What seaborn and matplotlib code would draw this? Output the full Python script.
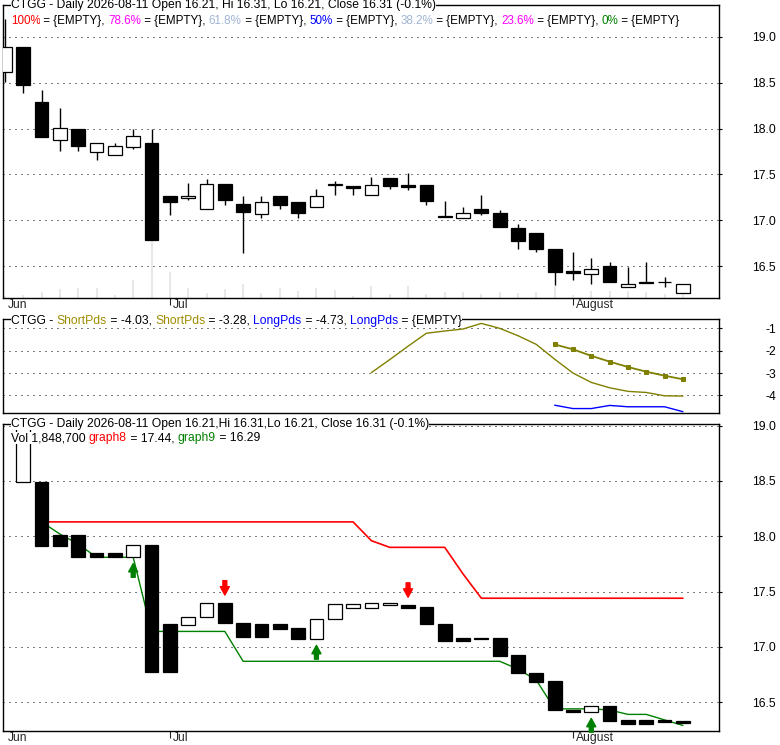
import numpy as np
import pandas as pd
import seaborn as sns
import matplotlib.pyplot as plt
from matplotlib.transforms import ScaledTranslation

sns.set_style("white")
plt.rcParams["font.family"] = ["Liberation Sans", "DejaVu Sans"]
plt.rcParams["axes.unicode_minus"] = False
FS = 8.7

# trading days shown (Juneteenth and Jul 3 closed)
dates = pd.bdate_range("2026-06-17", "2026-08-11", freq="C",
                       holidays=["2026-06-19", "2026-07-03"])

# daily OHLC
opens = [18.62, 18.89, 18.29, 17.87, 18.00, 17.74, 17.71, 17.80, 17.84, 17.26,
         17.24, 17.12, 17.40, 17.18, 17.07, 17.26, 17.20, 17.15, 17.39, 17.37,
         17.28, 17.46, 17.39, 17.39, 17.05, 17.02, 17.12, 17.08, 16.92, 16.86,
         16.69, 16.45, 16.41, 16.50, 16.27, 16.33, 16.33, 16.21]
highs = [19.20, 18.89, 18.42, 18.22, 18.00, 17.84, 17.84, 17.99, 17.99, 17.26,
         17.41, 17.45, 17.40, 17.26, 17.26, 17.26, 17.20, 17.34, 17.43, 17.37,
         17.47, 17.46, 17.52, 17.39, 17.21, 17.14, 17.28, 17.11, 16.96, 16.86,
         16.69, 16.65, 16.59, 16.54, 16.49, 16.55, 16.38, 16.31]
lows = [18.51, 18.39, 17.91, 17.76, 17.75, 17.66, 17.71, 17.78, 16.79, 17.06,
        17.22, 17.12, 17.17, 16.64, 17.02, 17.12, 17.03, 17.15, 17.28, 17.28,
        17.28, 17.34, 17.33, 17.17, 17.04, 17.02, 17.06, 16.93, 16.69, 16.65,
        16.29, 16.35, 16.30, 16.33, 16.27, 16.32, 16.27, 16.21]
closes = [18.89, 18.48, 17.91, 18.01, 17.81, 17.84, 17.81, 17.92, 16.79, 17.20,
          17.27, 17.40, 17.22, 17.09, 17.20, 17.17, 17.08, 17.26, 17.395, 17.35,
          17.39, 17.37, 17.36, 17.21, 17.04, 17.08, 17.08, 16.93, 16.77, 16.69,
          16.44, 16.42, 16.47, 16.33, 16.31, 16.32, 16.33, 16.31]
volume_m = [0.7, 1.4, 2.7, 4.1, 4.5, 4.5, 1.4, 8.1, 31.0, 11.7,
            4.5, 2.3, 4.1, 6.3, 2.3, 4.5, 3.2, 4.5, 3.6, 0.9,
            5.4, 1.8, 5.4, 1.8, 2.7, 2.7, 1.8, 2.7, 2.3, 2.7,
            5.4, 1.4, 3.2, 3.2, 3.2, 2.7, 1.8, 1.85]

# oscillator panel
short_pds1 = [np.nan] * 20 + [-2.98, -2.40, -1.80, -1.22, -1.12, -1.03, -0.78, -1.00, -1.33,
                              -1.72, -2.38, -3.00, -3.42, -3.66, -3.82, -3.87, -4.02, -4.03]
short_pds2 = [np.nan] * 30 + [-1.72, -1.94, -2.23, -2.49, -2.73, -2.94, -3.12, -3.28]
long_pds1 = [np.nan] * 30 + [-4.44, -4.59, -4.59, -4.45, -4.51, -4.51, -4.51, -4.73]

# lower panel boxes and stop lines
box_open = [np.nan, 18.49, 18.49, 18.01, 18.01, 17.85, 17.85, 17.81, 17.92, 17.21,
            17.20, 17.27, 17.40, 17.22, 17.21, 17.21, 17.17, 17.07, 17.25, 17.35,
            17.35, 17.38, 17.38, 17.36, 17.21, 17.08, 17.08, 17.08, 16.93, 16.76,
            16.69, 16.43, 16.41, 16.47, 16.34, 16.34, 16.34, 16.33]
box_close = [np.nan, 19.10, 17.91, 17.91, 17.81, 17.81, 17.81, 17.92, 16.77, 16.77,
             17.27, 17.40, 17.22, 17.09, 17.09, 17.16, 17.07, 17.25, 17.39, 17.39,
             17.40, 17.40, 17.35, 17.21, 17.05, 17.05, 17.07, 16.92, 16.76, 16.68,
             16.43, 16.41, 16.47, 16.33, 16.30, 16.30, 16.32, 16.31]
graph8 = [np.nan, np.nan, 18.13, 18.13, 18.13, 18.13, 18.13, 18.13, 18.13, 18.13,
          18.13, 18.13, 18.13, 18.13, 18.13, 18.13, 18.13, 18.13, 18.13, 18.13,
          17.96, 17.90, 17.90, 17.90, 17.90, 17.66, 17.44, 17.44, 17.44, 17.44,
          17.44, 17.44, 17.44, 17.44, 17.44, 17.44, 17.44, 17.44]
graph9 = [np.nan, np.nan, 18.13, 18.02, 17.93, 17.81, 17.81, 17.81, 17.14, 17.14,
          17.14, 17.14, 17.14, 16.87, 16.87, 16.87, 16.87, 16.87, 16.87, 16.87,
          16.87, 16.87, 16.87, 16.87, 16.87, 16.87, 16.87, 16.87, 16.80, 16.70,
          16.44, 16.44, 16.44, 16.43, 16.39, 16.39, 16.34, 16.29]
buy_days = [7, 17, 32]
sell_days = [12, 22]

x = np.arange(len(dates))
df = pd.DataFrame({"x": x, "short1": short_pds1, "short2": short_pds2,
                   "long1": long_pds1, "g8": graph8, "g9": graph9})

OLIVE = "#808000"
fig = plt.figure(figsize=(7.8, 7.45), dpi=100)
L, W = 3.3 / 780, 715.7 / 780
ax1 = fig.add_axes([L, 0.600, W, 0.3933])
ax2 = fig.add_axes([L, 0.4456, W, 0.1262])
ax3 = fig.add_axes([L, 0.0188, W, 0.4121])


def style_axis(ax, ylim, yticks):
    ax.set_xlim(-0.09, 38.97)
    ax.set_ylim(*ylim)
    ax.set_yticks(yticks)
    ax.yaxis.tick_right()
    ax.tick_params(axis="y", right=True, left=False, length=2, pad=39,
                   labelsize=FS, colors="black")
    plt.setp(ax.get_yticklabels(), ha="right")
    ax.yaxis.grid(True, color="black", linestyle=(0, (1, 5)), linewidth=0.72)
    ax.set_axisbelow(True)
    for s in ax.spines.values():
        s.set_color("black")
        s.set_linewidth(1.0)
    ax.set_xlabel("")
    ax.set_ylabel("")


def month_axis(ax):
    firsts = [0] + [i for i in range(1, len(dates)) if dates[i].month != dates[i - 1].month]
    names = [dates[i].strftime("%b") if dates[i].month != 8 else "August" for i in firsts]
    ax.set_xticks(firsts, names)
    ax.tick_params(axis="x", bottom=True, length=5, pad=-4.0, labelsize=FS, direction="out")
    off = ScaledTranslation(3 / 100, 0, fig.dpi_scale_trans)
    for lab in ax.get_xticklabels():
        lab.set_ha("left")
        lab.set_transform(lab.get_transform() + off)
    ax.xaxis.get_major_ticks()[0].tick1line.set_visible(False)


def text_line(ax, y, pieces, size=FS):
    bb = dict(fc="white", ec="none", pad=0)
    t = ax.text(11 / 715.7 - 0.005, y, pieces[0][0], color=pieces[0][1], fontsize=size,
                transform=ax.transAxes, va="center", ha="left", bbox=bb, zorder=20)
    for s, c in pieces[1:]:
        t = ax.annotate(s, xy=(1, 0), xycoords=t, va="bottom", ha="left",
                        color=c, fontsize=size, bbox=bb, zorder=20)


# ---- top panel: candles + volume
axv = ax1.twinx()
axv.vlines(x, 0, volume_m, color="#e8e8e8", linewidth=1.5)
axv.set_ylim(0, 132)
axv.set_yticks([])
axv.axis("off")
ax1.set_zorder(axv.get_zorder() + 1)
ax1.patch.set_visible(False)

ax1.vlines(x, lows, highs, color="black", linewidth=1.0, zorder=2)
up = [c >= o for o, c in zip(opens, closes)]
ax1.bar(x, np.array(closes) - np.array(opens), bottom=opens, width=0.75,
        color=["white" if u else "black" for u in up], edgecolor="black",
        linewidth=0.9, zorder=3)
style_axis(ax1, (16.152, 19.348), [16.5, 17.0, 17.5, 18.0, 18.5, 19.0])
month_axis(ax1)

text_line(ax1, 1.0, [("CTGG - Daily 2026-08-11 Open 16.21, Hi 16.31, Lo 16.21, Close 16.31 (-0.1%)", "black")])
fib = [("100%", "#ff0000"), ("78.6%", "#ff00ff"), ("61.8%", "#a0b4d4"), ("50%", "#0000ff"),
       ("38.2%", "#a0b4d4"), ("23.6%", "#ff00ff"), ("0%", "#008000")]
pieces = []
for k, (lab, col) in enumerate(fib):
    pieces.append((lab, col))
    pieces.append((" = {EMPTY}" + (", " if k < len(fib) - 1 else ""), "black"))
text_line(ax1, 0.945, pieces, size=8.35)

# ---- middle panel: oscillator lines
sns.lineplot(data=df, x="x", y="short1", ax=ax2, color=OLIVE, linewidth=1.0)
sns.lineplot(data=df, x="x", y="short2", ax=ax2, color=OLIVE, linewidth=1.3,
             marker="s", markersize=3.5, markeredgecolor=OLIVE)
sns.lineplot(data=df, x="x", y="long1", ax=ax2, color="#0000ff", linewidth=1.0)
style_axis(ax2, (-4.79, -0.583), [-4, -3, -2, -1])
ax2.set_xticks([])
text_line(ax2, 0.98, [("CTGG - ", "black"), ("ShortPds", "#a08c00"), (" = -4.03, ", "black"),
                      ("ShortPds", "#a08c00"), (" = -3.28, ", "black"), ("LongPds", "#0000ff"),
                      (" = -4.73, ", "black"), ("LongPds", "#0000ff"), (" = {EMPTY}", "black")])

# ---- bottom panel: boxes, stop lines, signals
sns.lineplot(data=df, x="x", y="g8", ax=ax3, color="#ff0000", linewidth=1.2)
sns.lineplot(data=df, x="x", y="g9", ax=ax3, color="#008000", linewidth=1.0)
bo, bc = np.array(box_open), np.array(box_close)
ax3.bar(x, bc - bo, bottom=bo, width=0.75,
        color=["white" if c >= o else "black" for o, c in zip(bo, bc)],
        edgecolor="black", linewidth=0.9, zorder=3)
arrow = "simple,head_length=0.6,head_width=0.65,tail_width=0.28"
for i in buy_days:
    ax3.annotate("", xy=(i, min(bo[i], bc[i])), xytext=(0, -20), textcoords="offset pixels",
                 arrowprops=dict(arrowstyle=arrow, fc="#008000", ec="#008000",
                                 shrinkA=0, shrinkB=4.5, mutation_scale=10), zorder=4)
for i in sell_days:
    ax3.annotate("", xy=(i, max(bo[i], bc[i])), xytext=(0, 22), textcoords="offset pixels",
                 arrowprops=dict(arrowstyle=arrow, fc="#ff0000", ec="#ff0000",
                                 shrinkA=0, shrinkB=5.5, mutation_scale=10), zorder=4)
style_axis(ax3, (16.24, 19.015), [16.5, 17.0, 17.5, 18.0, 18.5, 19.0])
month_axis(ax3)
text_line(ax3, 1.0, [("CTGG - Daily 2026-08-11 Open 16.21,Hi 16.31,Lo 16.21, Close 16.31 (-0.1%)", "black")])
text_line(ax3, 0.953, [("Vol 1,848,700 ", "black"), ("graph8", "#ff0000"), (" = 17.44, ", "black"),
                       ("graph9", "#008000"), (" = 16.29", "black")])

fig.savefig("out.png", dpi=100)
